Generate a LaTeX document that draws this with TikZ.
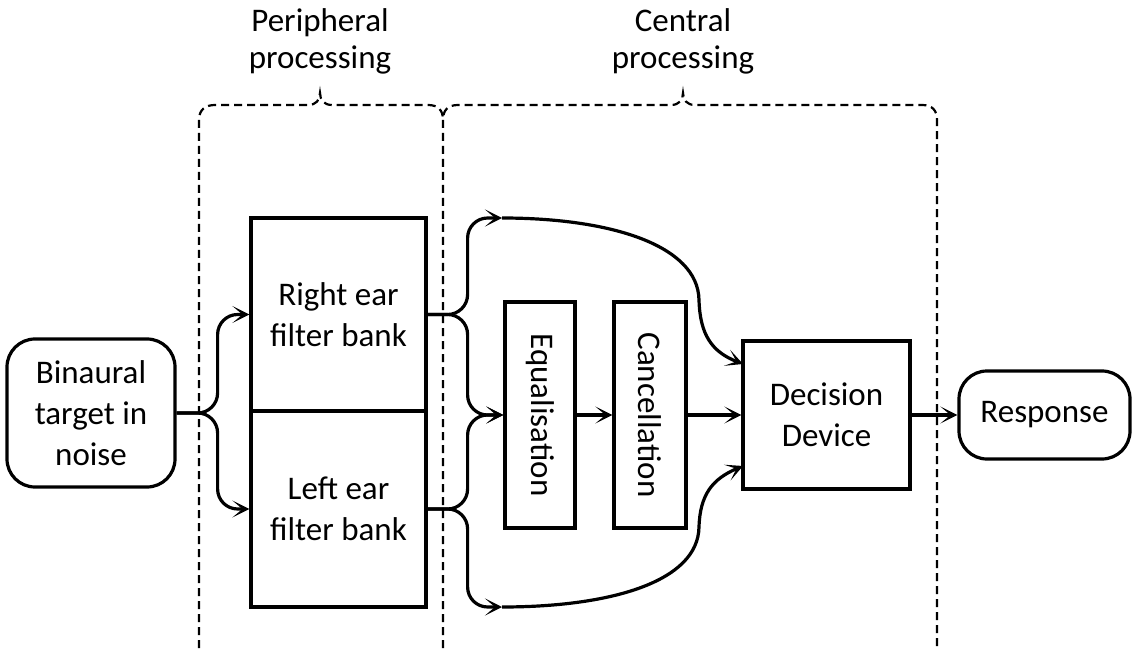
\documentclass[tikz,border=0pt]{standalone}
\usepackage{fontspec}
\usepackage{graphicx}
\setmainfont{Carlito}
\usetikzlibrary{arrows.meta,calc}
\begin{document}
\begin{tikzpicture}[x=1pt,y=-1pt,
  every node/.style={font=\fontsize{33}{41}\selectfont, align=center, inner sep=0pt},
  box/.style={draw, line width=3.2pt, rectangle},
  rbox/.style={draw, line width=3.2pt, rounded corners=28pt},
  conn/.style={line width=3.2pt, -{Stealth[length=17pt,width=17pt,inset=10pt]}},
  elbow/.style={conn, rounded corners=20pt},
  brace/.style={line width=2.2pt, dash pattern=on 8pt off 5pt},
  lbl/.style={font=\fontsize{33}{37}\selectfont}]
\useasboundingbox (0,0) rectangle (1133,655);

% braces
\draw[brace] (199,648) -- (199,120) .. controls (199,110) and (205,105) .. (215,105) -- (308,105)
  .. controls (316,105) and (320,100) .. (320,93) .. controls (320,100) and (324,105) .. (332,105)
  -- (428,105) .. controls (438,105) and (443,110) .. (443,120);
\draw[brace] (443,648) -- (443,120) .. controls (443,110) and (448,105) .. (458,105) -- (671,105)
  .. controls (679,105) and (683,100) .. (683,93) .. controls (683,100) and (687,105) .. (695,105)
  -- (922,105) .. controls (932,105) and (937,110) .. (937,120) -- (937,648);

\node[lbl] (pl) at (320,41) {Peripheral\\processing};
\node[lbl] (cl) at (683,41) {Central\\processing};

% nodes
\node[rbox, minimum width=168pt, minimum height=148pt] (bin) at (91,413) {Binaural\\target in\\noise};
\node[box, minimum width=175pt, minimum height=193pt] (rfb) at (338.5,314.5) {Right ear\\filter bank};
\node[box, minimum width=175pt, minimum height=196pt] (lfb) at (338.5,509) {Left ear\\filter bank};
\node[box, minimum width=70pt, minimum height=226pt] (eq) at (540,415) {\rotatebox{-90}{Equalisation}};
\node[box, minimum width=72pt, minimum height=226pt] (can) at (650,415) {\rotatebox{-90}{Cancellation}};
\node[box, minimum width=167pt, minimum height=148pt] (dd) at (826.5,415) {Decision\\Device};
\node[rbox, minimum width=171pt, minimum height=88pt] (resp) at (1044.5,415) {Response};

\coordinate (top) at (502,218);
\coordinate (bot) at (502,607);
\coordinate (dUp) at (743,364);
\coordinate (dLo) at (743,466);

% connectors
\draw[elbow] (bin.east) -- ++(41,0) |- (rfb.west);
\draw[elbow] (bin.east) -- ++(41,0) |- (lfb.west);
\draw[elbow] (rfb.east) -- ++(40,0) |- (top);
\draw[elbow] (rfb.east) -- ++(40,0) |- (eq.west);
\draw[elbow] (lfb.east) -- ++(40,0) |- (eq.west);
\draw[elbow] (lfb.east) -- ++(40,0) |- (bot);
\draw[conn] (top) .. controls (610,218) and (698,245) .. (699,300) .. controls (700,335) and (712,352) .. (dUp);
\draw[conn] (bot) .. controls (610,607) and (698,582) .. (699,527) .. controls (700,495) and (712,479) .. (dLo);
\draw[conn] (eq) -- (can);
\draw[conn] (can) -- (dd);
\draw[conn] (dd) -- (resp);
\end{tikzpicture}
\end{document}
